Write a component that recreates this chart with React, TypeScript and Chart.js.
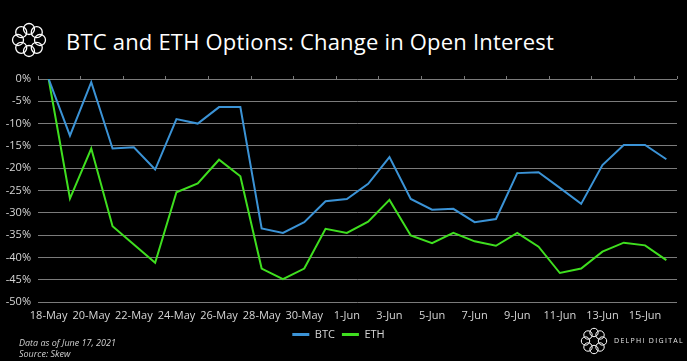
import React, { useEffect, useRef } from "react";
import { Chart, registerables } from "chart.js";

Chart.register(...registerables);

const categories = [
  "18-May", "19-May", "20-May", "21-May", "22-May", "23-May", "24-May", "25-May",
  "26-May", "27-May", "28-May", "29-May", "30-May", "31-May",
  "1-Jun", "2-Jun", "3-Jun", "4-Jun", "5-Jun", "6-Jun", "7-Jun", "8-Jun",
  "9-Jun", "10-Jun", "11-Jun", "12-Jun", "13-Jun", "14-Jun", "15-Jun", "16-Jun",
];

const btcValues = [
  0, -12.7, -0.7, -15.6, -15.3, -20.3, -9.0, -10.0, -6.3, -6.3,
  -33.5, -34.5, -32.1, -27.4, -26.9, -23.5, -17.5, -26.9, -29.3, -29.1,
  -32.1, -31.4, -21.1, -20.9, -24.4, -28.0, -19.3, -14.8, -14.8, -18.0,
];

const ethValues = [
  0, -26.8, -15.6, -33.0, -37.1, -41.2, -25.4, -23.4, -18.1, -21.8,
  -42.5, -44.9, -42.5, -33.6, -34.5, -32.0, -27.1, -35.1, -36.8, -34.5,
  -36.4, -37.4, -34.5, -37.6, -43.5, -42.5, -38.7, -36.7, -37.3, -40.6,
];

const yMin = -50;
const yMax = 0;
const yStep = 5;

const BTC_COLOR = "#3b93d6";
const ETH_COLOR = "#3fdf1f";
const GRID = "#7b7b7b";
const TEXT = "#d6d6d6";
const FONT = "'Open Sans', 'Noto Sans', sans-serif";

function RingLogo({ cx, cy, R, r, sw }: { cx: number; cy: number; R: number; r: number; sw: number }) {
  const circles = [];
  for (let i = 0; i < 8; i++) {
    const a = (i / 8) * Math.PI * 2 - Math.PI / 2;
    circles.push(
      <circle key={i} cx={cx + R * Math.cos(a)} cy={cy + R * Math.sin(a)} r={r} fill="none" stroke="#ffffff" strokeWidth={sw} />
    );
  }
  return <>{circles}</>;
}

export default function App() {
  const canvasRef = useRef<HTMLCanvasElement | null>(null);

  useEffect(() => {
    if (!canvasRef.current) return;
    const chart = new Chart(canvasRef.current, {
      type: "line",
      data: {
        labels: categories,
        datasets: [
          {
            label: "BTC",
            data: btcValues,
            borderColor: BTC_COLOR,
            backgroundColor: BTC_COLOR,
            borderWidth: 2,
            pointRadius: 0,
            tension: 0,
          },
          {
            label: "ETH",
            data: ethValues,
            borderColor: ETH_COLOR,
            backgroundColor: ETH_COLOR,
            borderWidth: 2,
            pointRadius: 0,
            tension: 0,
          },
        ],
      },
      options: {
        animation: false,
        responsive: false,
        maintainAspectRatio: false,
        layout: { padding: { top: 76, right: 10, left: 0, bottom: 11 } },
        plugins: {
          tooltip: { enabled: false },
          legend: {
            position: "bottom",
            labels: {
              color: TEXT,
              font: { family: FONT, size: 11 },
              boxWidth: 17,
              boxHeight: 3,
              padding: 7,
              generateLabels: (c: any) =>
                (Chart.defaults.plugins.legend.labels as any)
                  .generateLabels(c)
                  .map((l: any) => ({ ...l, lineWidth: 0 })),
            },
          },
        },
        scales: {
          x: {
            type: "category",
            position: "bottom",
            offset: true,
            grid: { display: false, drawTicks: false },
            border: { display: false },
            ticks: {
              autoSkip: false,
              maxRotation: 0,
              color: TEXT,
              font: { family: FONT, size: 11 },
              padding: 7,
              callback: (_v: any, i: number) => (i % 2 === 0 ? categories[i] : ""),
            },
            afterFit: (s: any) => {
              s.height = 20;
            },
          },
          x2: {
            type: "category",
            position: "top",
            labels: categories,
            offset: true,
            grid: {
              offset: true,
              drawOnChartArea: false,
              tickLength: 3,
              color: (ctx: any) =>
                ctx.index === undefined || ctx.index % 2 === 0 ? GRID : "rgba(0,0,0,0)",
            },
            border: { display: false },
            ticks: { display: false },
            afterFit: (s: any) => {
              s.height = 3;
            },
          },
          y: {
            min: yMin,
            max: yMax,
            ticks: {
              stepSize: yStep,
              color: TEXT,
              font: { family: FONT, size: 11 },
              padding: 7,
              callback: (v: any) => `${v}%`,
            },
            grid: { color: GRID, drawTicks: false, lineWidth: 1 },
            border: { display: false },
            afterFit: (s: any) => {
              s.width = 38;
            },
          },
        },
      },
    });
    return () => chart.destroy();
  }, []);

  return (
    <div
      style={{
        position: "fixed",
        left: 0,
        top: 0,
        width: 687,
        height: 361,
        background: "#000000",
        overflow: "hidden",
      }}
    >
      <svg width={687} height={361} style={{ position: "absolute", left: 0, top: 0 }}>
        <RingLogo cx={29} cy={40} R={11} r={5.5} sw={1.3} />
        <RingLogo cx={594} cy={341} R={8.5} r={4.2} sw={1} />
      </svg>
      <div
        style={{
          position: "absolute",
          left: 66,
          top: 27,
          color: "#ffffff",
          fontFamily: FONT,
          fontSize: 22,
          letterSpacing: 0.2,
          whiteSpace: "nowrap",
          lineHeight: "28px",
        }}
      >
        BTC and ETH Options: Change in Open Interest
      </div>
      <canvas
        ref={canvasRef}
        width={687}
        height={361}
        style={{ position: "absolute", left: 0, top: 0, width: 687, height: 361 }}
      />
      <div
        style={{
          position: "absolute",
          left: 19,
          top: 337,
          color: "#cfcfcf",
          fontFamily: FONT,
          fontStyle: "italic",
          fontSize: 9,
          lineHeight: "11px",
          whiteSpace: "nowrap",
        }}
      >
        <div>Data as of June 17, 2021</div>
        <div>Source: Skew</div>
      </div>
      <div
        style={{
          position: "absolute",
          left: 614,
          top: 336,
          color: "#e6e6e6",
          fontFamily: FONT,
          fontSize: 7,
          letterSpacing: 1.3,
          lineHeight: "10px",
          whiteSpace: "nowrap",
        }}
      >
        DELPHI DIGITAL
      </div>
    </div>
  );
}
